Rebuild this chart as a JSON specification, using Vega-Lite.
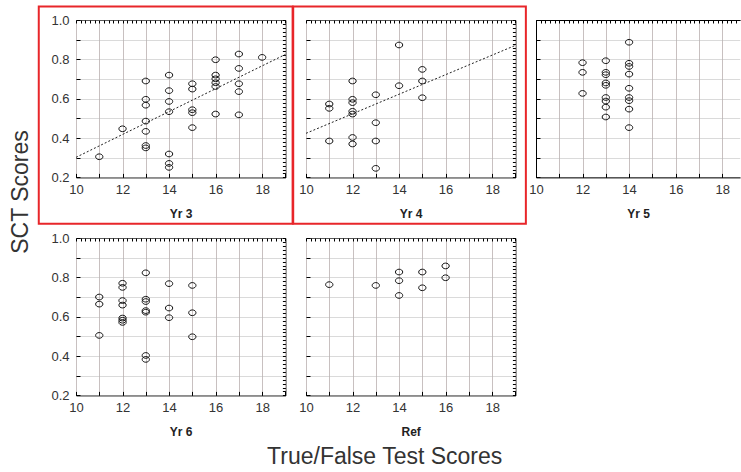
{
  "$schema": "https://vega.github.io/schema/vega-lite/v6.json",
  "autosize": {"type": "pad"},
  "padding": {"left": 10, "top": 5, "right": 0, "bottom": 0},
  "background": "white",
  "config": {
    "font": "Liberation Sans",
    "view": {"stroke": "#000", "strokeWidth": 1},
    "axis": {"labelFont": "Liberation Sans", "labelFontSize": 13, "labelColor": "#333", "titleFont": "Liberation Sans", "titleColor": "#222", "labelOverlap": false, "labelFlush": false, "labelBound": false, "tickColor": "#000"},
    "title": {"font": "Liberation Sans", "fontWeight": "normal", "fontSize": 23, "color": "#333"}
  },
  "datasets": {
    "pts": [
      {"p": "Yr 3", "x": 11, "y": 0.305}, {"p": "Yr 3", "x": 12, "y": 0.447},
      {"p": "Yr 3", "x": 13, "y": 0.69}, {"p": "Yr 3", "x": 13, "y": 0.597}, {"p": "Yr 3", "x": 13, "y": 0.567}, {"p": "Yr 3", "x": 13, "y": 0.486}, {"p": "Yr 3", "x": 13, "y": 0.434}, {"p": "Yr 3", "x": 13, "y": 0.362}, {"p": "Yr 3", "x": 13, "y": 0.35},
      {"p": "Yr 3", "x": 14, "y": 0.72}, {"p": "Yr 3", "x": 14, "y": 0.641}, {"p": "Yr 3", "x": 14, "y": 0.586}, {"p": "Yr 3", "x": 14, "y": 0.534}, {"p": "Yr 3", "x": 14, "y": 0.319}, {"p": "Yr 3", "x": 14, "y": 0.271}, {"p": "Yr 3", "x": 14, "y": 0.251},
      {"p": "Yr 3", "x": 15, "y": 0.676}, {"p": "Yr 3", "x": 15, "y": 0.649}, {"p": "Yr 3", "x": 15, "y": 0.544}, {"p": "Yr 3", "x": 15, "y": 0.529}, {"p": "Yr 3", "x": 15, "y": 0.453},
      {"p": "Yr 3", "x": 16, "y": 0.798}, {"p": "Yr 3", "x": 16, "y": 0.72}, {"p": "Yr 3", "x": 16, "y": 0.701}, {"p": "Yr 3", "x": 16, "y": 0.681}, {"p": "Yr 3", "x": 16, "y": 0.662}, {"p": "Yr 3", "x": 16, "y": 0.522},
      {"p": "Yr 3", "x": 17, "y": 0.827}, {"p": "Yr 3", "x": 17, "y": 0.754}, {"p": "Yr 3", "x": 17, "y": 0.676}, {"p": "Yr 3", "x": 17, "y": 0.636}, {"p": "Yr 3", "x": 17, "y": 0.518},
      {"p": "Yr 3", "x": 18, "y": 0.81},
      {"p": "Yr 4", "x": 11, "y": 0.573}, {"p": "Yr 4", "x": 11, "y": 0.551}, {"p": "Yr 4", "x": 11, "y": 0.385},
      {"p": "Yr 4", "x": 12, "y": 0.69}, {"p": "Yr 4", "x": 12, "y": 0.597}, {"p": "Yr 4", "x": 12, "y": 0.58}, {"p": "Yr 4", "x": 12, "y": 0.536}, {"p": "Yr 4", "x": 12, "y": 0.522}, {"p": "Yr 4", "x": 12, "y": 0.403}, {"p": "Yr 4", "x": 12, "y": 0.37},
      {"p": "Yr 4", "x": 13, "y": 0.62}, {"p": "Yr 4", "x": 13, "y": 0.478}, {"p": "Yr 4", "x": 13, "y": 0.385}, {"p": "Yr 4", "x": 13, "y": 0.246},
      {"p": "Yr 4", "x": 14, "y": 0.873}, {"p": "Yr 4", "x": 14, "y": 0.666},
      {"p": "Yr 4", "x": 15, "y": 0.749}, {"p": "Yr 4", "x": 15, "y": 0.69}, {"p": "Yr 4", "x": 15, "y": 0.605},
      {"p": "Yr 5", "x": 12, "y": 0.783}, {"p": "Yr 5", "x": 12, "y": 0.734}, {"p": "Yr 5", "x": 12, "y": 0.627},
      {"p": "Yr 5", "x": 13, "y": 0.793}, {"p": "Yr 5", "x": 13, "y": 0.734}, {"p": "Yr 5", "x": 13, "y": 0.722}, {"p": "Yr 5", "x": 13, "y": 0.68}, {"p": "Yr 5", "x": 13, "y": 0.668}, {"p": "Yr 5", "x": 13, "y": 0.606}, {"p": "Yr 5", "x": 13, "y": 0.588}, {"p": "Yr 5", "x": 13, "y": 0.557}, {"p": "Yr 5", "x": 13, "y": 0.507},
      {"p": "Yr 5", "x": 14, "y": 0.887}, {"p": "Yr 5", "x": 14, "y": 0.78}, {"p": "Yr 5", "x": 14, "y": 0.764}, {"p": "Yr 5", "x": 14, "y": 0.725}, {"p": "Yr 5", "x": 14, "y": 0.653}, {"p": "Yr 5", "x": 14, "y": 0.606}, {"p": "Yr 5", "x": 14, "y": 0.59}, {"p": "Yr 5", "x": 14, "y": 0.547}, {"p": "Yr 5", "x": 14, "y": 0.453},
      {"p": "Yr 6", "x": 11, "y": 0.70}, {"p": "Yr 6", "x": 11, "y": 0.664}, {"p": "Yr 6", "x": 11, "y": 0.505},
      {"p": "Yr 6", "x": 12, "y": 0.77}, {"p": "Yr 6", "x": 12, "y": 0.749}, {"p": "Yr 6", "x": 12, "y": 0.682}, {"p": "Yr 6", "x": 12, "y": 0.659}, {"p": "Yr 6", "x": 12, "y": 0.593}, {"p": "Yr 6", "x": 12, "y": 0.582}, {"p": "Yr 6", "x": 12, "y": 0.571},
      {"p": "Yr 6", "x": 13, "y": 0.823}, {"p": "Yr 6", "x": 13, "y": 0.689}, {"p": "Yr 6", "x": 13, "y": 0.677}, {"p": "Yr 6", "x": 13, "y": 0.631}, {"p": "Yr 6", "x": 13, "y": 0.623}, {"p": "Yr 6", "x": 13, "y": 0.403}, {"p": "Yr 6", "x": 13, "y": 0.383},
      {"p": "Yr 6", "x": 14, "y": 0.768}, {"p": "Yr 6", "x": 14, "y": 0.644}, {"p": "Yr 6", "x": 14, "y": 0.595},
      {"p": "Yr 6", "x": 15, "y": 0.759}, {"p": "Yr 6", "x": 15, "y": 0.62}, {"p": "Yr 6", "x": 15, "y": 0.498},
      {"p": "Ref", "x": 11, "y": 0.763}, {"p": "Ref", "x": 13, "y": 0.759},
      {"p": "Ref", "x": 14, "y": 0.827}, {"p": "Ref", "x": 14, "y": 0.783}, {"p": "Ref", "x": 14, "y": 0.708},
      {"p": "Ref", "x": 15, "y": 0.827}, {"p": "Ref", "x": 15, "y": 0.747},
      {"p": "Ref", "x": 16, "y": 0.858}, {"p": "Ref", "x": 16, "y": 0.798}
    ],
    "trend": [
      {"p": "Yr 3", "x": 10, "y": 0.302}, {"p": "Yr 3", "x": 19, "y": 0.825},
      {"p": "Yr 4", "x": 10, "y": 0.424}, {"p": "Yr 4", "x": 19, "y": 0.871}
    ]
  },
  "title": {"text": "SCT Scores", "orient": "left", "anchor": "middle", "offset": 4, "dx": 45},
  "hconcat": [
    {
      "title": {"text": "True/False Test Scores", "orient": "bottom", "anchor": "middle", "offset": 8, "dx": -4},
      "spacing": 5,
      "vconcat": [
        {
          "spacing": 20,
          "bounds": "flush",
          "hconcat": [
            {
              "width": 209.4, "height": 157.4,
              "resolve": {"axis": {"x": "independent", "y": "independent"}},
              "layer": [
                {
                  "data": {"name": "pts"},
                  "transform": [{"filter": "datum.p == 'Yr 3'"}],
                  "mark": {"type": "point", "shape": "M-1,0A1,0.78,0,1,1,1,0A1,0.78,0,1,1,-1,0Z", "size": 53, "filled": false, "stroke": "#111", "strokeWidth": 1, "opacity": 1},
                  "encoding": {
                    "x": {"field": "x", "type": "quantitative", "scale": {"domain": [10, 19], "nice": false, "zero": false},
                      "axis": {"orient": "bottom", "values": [10, 11, 12, 13, 14, 15, 16, 17, 18, 19], "labelExpr": "datum.value % 2 == 0 && datum.value < 19 ? datum.label : ''", "grid": true, "gridColor": "#c8c0c0", "ticks": true, "tickSize": -4, "domain": false, "labelPadding": 10, "title": "Yr 3", "titleFontWeight": "bold", "titleFontSize": 12, "titlePadding": 12}},
                    "y": {"field": "y", "type": "quantitative", "scale": {"domain": [0.2, 1.0], "nice": false, "zero": false},
                      "axis": {"orient": "left", "values": [0.2, 0.3, 0.4, 0.5, 0.6, 0.7, 0.8, 0.9, 1.0], "format": ".1f", "labelExpr": "round(datum.value * 10) % 2 == 0 ? datum.label : ''", "grid": true, "gridColor": "#b5b5b5", "gridDash": [1, 1], "ticks": true, "tickSize": -4, "domain": false, "labelPadding": 11, "title": null}}
                  }
                },
                {
                  "data": {"name": "trend"},
                  "transform": [{"filter": "datum.p == 'Yr 3'"}],
                  "mark": {"type": "line", "strokeDash": [2, 2], "color": "#222", "strokeWidth": 1},
                  "encoding": {
                    "x": {"field": "x", "type": "quantitative", "scale": {"domain": [10, 19], "nice": false, "zero": false}, "axis": null},
                    "y": {"field": "y", "type": "quantitative", "scale": {"domain": [0.2, 1.0], "nice": false, "zero": false}, "axis": null}
                  }
                },
                {
                  "data": {"name": "pts"},
                  "transform": [{"filter": "datum.p == 'Yr 3'"}],
                  "mark": {"type": "point", "opacity": 0},
                  "encoding": {
                    "x": {"field": "x", "type": "quantitative", "scale": {"domain": [10, 19], "nice": false, "zero": false},
                      "axis": {"orient": "top", "values": [10,10.2,10.4,10.6,10.8,11,11.2,11.4,11.6,11.8,12,12.2,12.4,12.6,12.8,13,13.2,13.4,13.6,13.8,14,14.2,14.4,14.6,14.8,15,15.2,15.4,15.6,15.8,16,16.2,16.4,16.6,16.8,17,17.2,17.4,17.6,17.8,18,18.2,18.4,18.6,18.8,19], "labels": false, "grid": false, "domain": false, "tickSize": -3, "title": null}},
                    "y": {"field": "y", "type": "quantitative", "scale": {"domain": [0.2, 1.0], "nice": false, "zero": false},
                      "axis": {"orient": "right", "values": [0.2,0.22,0.24,0.26,0.28,0.3,0.32,0.34,0.36,0.38,0.4,0.42,0.44,0.46,0.48,0.5,0.52,0.54,0.56,0.58,0.6,0.62,0.64,0.66,0.68,0.7,0.72,0.74,0.76,0.78,0.8,0.82,0.84,0.86,0.88,0.9,0.92,0.94,0.96,0.98,1.0], "labels": false, "grid": false, "domain": false, "tickSize": -3, "title": null}}
                  }
                },
                {
                  "data": {"values": [{}]},
                  "mark": {"type": "rect", "fill": null, "stroke": "#e8262a", "strokeWidth": 2},
                  "encoding": {
                    "x": {"datum": 8.4, "type": "quantitative", "scale": {"domain": [10, 19], "nice": false, "zero": false}, "axis": null},
                    "x2": {"datum": 19.31},
                    "y": {"datum": 1.068, "type": "quantitative", "scale": {"domain": [0.2, 1.0], "nice": false, "zero": false}, "axis": null},
                    "y2": {"datum": -0.035}
                  }
                }
              ]
            },
            {
              "width": 209.4, "height": 157.4,
              "resolve": {"axis": {"x": "independent", "y": "independent"}},
              "layer": [
                {
                  "data": {"name": "pts"},
                  "transform": [{"filter": "datum.p == 'Yr 4'"}],
                  "mark": {"type": "point", "shape": "M-1,0A1,0.78,0,1,1,1,0A1,0.78,0,1,1,-1,0Z", "size": 53, "filled": false, "stroke": "#111", "strokeWidth": 1, "opacity": 1},
                  "encoding": {
                    "x": {"field": "x", "type": "quantitative", "scale": {"domain": [10, 19], "nice": false, "zero": false},
                      "axis": {"orient": "bottom", "values": [10, 11, 12, 13, 14, 15, 16, 17, 18, 19], "labelExpr": "datum.value % 2 == 0 && datum.value < 19 ? datum.label : ''", "grid": true, "gridColor": "#c8c0c0", "ticks": true, "tickSize": -4, "domain": false, "labelPadding": 10, "title": "Yr 4", "titleFontWeight": "bold", "titleFontSize": 12, "titlePadding": 12}},
                    "y": {"field": "y", "type": "quantitative", "scale": {"domain": [0.2, 1.0], "nice": false, "zero": false},
                      "axis": {"orient": "left", "values": [0.2, 0.3, 0.4, 0.5, 0.6, 0.7, 0.8, 0.9, 1.0], "labels": false, "grid": true, "gridColor": "#b5b5b5", "gridDash": [1, 1], "ticks": true, "tickSize": -4, "domain": false, "title": null}}
                  }
                },
                {
                  "data": {"name": "trend"},
                  "transform": [{"filter": "datum.p == 'Yr 4'"}],
                  "mark": {"type": "line", "strokeDash": [2, 2], "color": "#222", "strokeWidth": 1},
                  "encoding": {
                    "x": {"field": "x", "type": "quantitative", "scale": {"domain": [10, 19], "nice": false, "zero": false}, "axis": null},
                    "y": {"field": "y", "type": "quantitative", "scale": {"domain": [0.2, 1.0], "nice": false, "zero": false}, "axis": null}
                  }
                },
                {
                  "data": {"name": "pts"},
                  "transform": [{"filter": "datum.p == 'Yr 4'"}],
                  "mark": {"type": "point", "opacity": 0},
                  "encoding": {
                    "x": {"field": "x", "type": "quantitative", "scale": {"domain": [10, 19], "nice": false, "zero": false},
                      "axis": {"orient": "top", "values": [10,10.2,10.4,10.6,10.8,11,11.2,11.4,11.6,11.8,12,12.2,12.4,12.6,12.8,13,13.2,13.4,13.6,13.8,14,14.2,14.4,14.6,14.8,15,15.2,15.4,15.6,15.8,16,16.2,16.4,16.6,16.8,17,17.2,17.4,17.6,17.8,18,18.2,18.4,18.6,18.8,19], "labels": false, "grid": false, "domain": false, "tickSize": -3, "title": null}},
                    "y": {"field": "y", "type": "quantitative", "scale": {"domain": [0.2, 1.0], "nice": false, "zero": false},
                      "axis": {"orient": "right", "values": [0.2,0.22,0.24,0.26,0.28,0.3,0.32,0.34,0.36,0.38,0.4,0.42,0.44,0.46,0.48,0.5,0.52,0.54,0.56,0.58,0.6,0.62,0.64,0.66,0.68,0.7,0.72,0.74,0.76,0.78,0.8,0.82,0.84,0.86,0.88,0.9,0.92,0.94,0.96,0.98,1.0], "labels": false, "grid": false, "domain": false, "tickSize": -3, "title": null}}
                  }
                },
                {
                  "data": {"values": [{}]},
                  "mark": {"type": "rect", "fill": null, "stroke": "#e8262a", "strokeWidth": 2},
                  "encoding": {
                    "x": {"datum": 9.45, "type": "quantitative", "scale": {"domain": [10, 19], "nice": false, "zero": false}, "axis": null},
                    "x2": {"datum": 19.45},
                    "y": {"datum": 1.068, "type": "quantitative", "scale": {"domain": [0.2, 1.0], "nice": false, "zero": false}, "axis": null},
                    "y2": {"datum": -0.035}
                  }
                }
              ]
            },
            {
              "width": 204.1, "height": 157.4,
              "view": {"stroke": null},
              "resolve": {"axis": {"x": "independent", "y": "independent"}},
              "layer": [
                {
                  "data": {"name": "pts"},
                  "transform": [{"filter": "datum.p == 'Yr 5'"}],
                  "mark": {"type": "point", "shape": "M-1,0A1,0.78,0,1,1,1,0A1,0.78,0,1,1,-1,0Z", "size": 53, "filled": false, "stroke": "#111", "strokeWidth": 1, "opacity": 1},
                  "encoding": {
                    "x": {"field": "x", "type": "quantitative", "scale": {"domain": [10, 18.77], "nice": false, "zero": false},
                      "axis": {"orient": "bottom", "values": [10, 11, 12, 13, 14, 15, 16, 17, 18], "labelExpr": "datum.value % 2 == 0 ? datum.label : ''", "grid": true, "gridColor": "#c8c0c0", "ticks": true, "tickSize": -4, "domain": true, "domainColor": "#000", "labelPadding": 10, "title": "Yr 5", "titleFontWeight": "bold", "titleFontSize": 12, "titlePadding": 12}},
                    "y": {"field": "y", "type": "quantitative", "scale": {"domain": [0.2, 1.0], "nice": false, "zero": false},
                      "axis": {"orient": "left", "values": [0.2, 0.3, 0.4, 0.5, 0.6, 0.7, 0.8, 0.9, 1.0], "labels": false, "grid": true, "gridColor": "#b5b5b5", "gridDash": [1, 1], "ticks": true, "tickSize": -4, "domain": true, "domainColor": "#000", "title": null}}
                  }
                },
                {
                  "data": {"name": "pts"},
                  "transform": [{"filter": "datum.p == 'Yr 5'"}],
                  "mark": {"type": "point", "opacity": 0},
                  "encoding": {
                    "x": {"field": "x", "type": "quantitative", "scale": {"domain": [10, 18.77], "nice": false, "zero": false},
                      "axis": {"orient": "top", "values": [10,10.2,10.4,10.6,10.8,11,11.2,11.4,11.6,11.8,12,12.2,12.4,12.6,12.8,13,13.2,13.4,13.6,13.8,14,14.2,14.4,14.6,14.8,15,15.2,15.4,15.6,15.8,16,16.2,16.4,16.6,16.8,17,17.2,17.4,17.6,17.8,18,18.2,18.4,18.6], "labels": false, "grid": false, "domain": true, "domainColor": "#000", "tickSize": -3, "title": null}},
                    "y": {"field": "y", "type": "quantitative", "scale": {"domain": [0.2, 1.0], "nice": false, "zero": false}, "axis": null}
                  }
                }
              ]
            }
          ]
        },
        {
          "spacing": 20,
          "bounds": "flush",
          "hconcat": [
            {
              "width": 209.4, "height": 157.4,
              "resolve": {"axis": {"x": "independent", "y": "independent"}},
              "layer": [
                {
                  "data": {"name": "pts"},
                  "transform": [{"filter": "datum.p == 'Yr 6'"}],
                  "mark": {"type": "point", "shape": "M-1,0A1,0.78,0,1,1,1,0A1,0.78,0,1,1,-1,0Z", "size": 53, "filled": false, "stroke": "#111", "strokeWidth": 1, "opacity": 1},
                  "encoding": {
                    "x": {"field": "x", "type": "quantitative", "scale": {"domain": [10, 19], "nice": false, "zero": false},
                      "axis": {"orient": "bottom", "values": [10, 11, 12, 13, 14, 15, 16, 17, 18, 19], "labelExpr": "datum.value % 2 == 0 && datum.value < 19 ? datum.label : ''", "grid": true, "gridColor": "#c8c0c0", "ticks": true, "tickSize": -4, "domain": false, "labelPadding": 10, "title": "Yr 6", "titleFontWeight": "bold", "titleFontSize": 12, "titlePadding": 12}},
                    "y": {"field": "y", "type": "quantitative", "scale": {"domain": [0.2, 1.0], "nice": false, "zero": false},
                      "axis": {"orient": "left", "values": [0.2, 0.3, 0.4, 0.5, 0.6, 0.7, 0.8, 0.9, 1.0], "format": ".1f", "labelExpr": "round(datum.value * 10) % 2 == 0 ? datum.label : ''", "grid": true, "gridColor": "#b5b5b5", "gridDash": [1, 1], "ticks": true, "tickSize": -4, "domain": false, "labelPadding": 11, "title": null}}
                  }
                },
                {
                  "data": {"name": "pts"},
                  "transform": [{"filter": "datum.p == 'Yr 6'"}],
                  "mark": {"type": "point", "opacity": 0},
                  "encoding": {
                    "x": {"field": "x", "type": "quantitative", "scale": {"domain": [10, 19], "nice": false, "zero": false},
                      "axis": {"orient": "top", "values": [10,10.2,10.4,10.6,10.8,11,11.2,11.4,11.6,11.8,12,12.2,12.4,12.6,12.8,13,13.2,13.4,13.6,13.8,14,14.2,14.4,14.6,14.8,15,15.2,15.4,15.6,15.8,16,16.2,16.4,16.6,16.8,17,17.2,17.4,17.6,17.8,18,18.2,18.4,18.6,18.8,19], "labels": false, "grid": false, "domain": false, "tickSize": -3, "title": null}},
                    "y": {"field": "y", "type": "quantitative", "scale": {"domain": [0.2, 1.0], "nice": false, "zero": false},
                      "axis": {"orient": "right", "values": [0.2,0.22,0.24,0.26,0.28,0.3,0.32,0.34,0.36,0.38,0.4,0.42,0.44,0.46,0.48,0.5,0.52,0.54,0.56,0.58,0.6,0.62,0.64,0.66,0.68,0.7,0.72,0.74,0.76,0.78,0.8,0.82,0.84,0.86,0.88,0.9,0.92,0.94,0.96,0.98,1.0], "labels": false, "grid": false, "domain": false, "tickSize": -3, "title": null}}
                  }
                }
              ]
            },
            {
              "width": 209.4, "height": 157.4,
              "resolve": {"axis": {"x": "independent", "y": "independent"}},
              "layer": [
                {
                  "data": {"name": "pts"},
                  "transform": [{"filter": "datum.p == 'Ref'"}],
                  "mark": {"type": "point", "shape": "M-1,0A1,0.78,0,1,1,1,0A1,0.78,0,1,1,-1,0Z", "size": 53, "filled": false, "stroke": "#111", "strokeWidth": 1, "opacity": 1},
                  "encoding": {
                    "x": {"field": "x", "type": "quantitative", "scale": {"domain": [10, 19], "nice": false, "zero": false},
                      "axis": {"orient": "bottom", "values": [10, 11, 12, 13, 14, 15, 16, 17, 18, 19], "labelExpr": "datum.value % 2 == 0 && datum.value < 19 ? datum.label : ''", "grid": true, "gridColor": "#c8c0c0", "ticks": true, "tickSize": -4, "domain": false, "labelPadding": 10, "title": "Ref", "titleFontWeight": "bold", "titleFontSize": 12, "titlePadding": 12}},
                    "y": {"field": "y", "type": "quantitative", "scale": {"domain": [0.2, 1.0], "nice": false, "zero": false},
                      "axis": {"orient": "left", "values": [0.2, 0.3, 0.4, 0.5, 0.6, 0.7, 0.8, 0.9, 1.0], "labels": false, "grid": true, "gridColor": "#b5b5b5", "gridDash": [1, 1], "ticks": true, "tickSize": -4, "domain": false, "title": null}}
                  }
                },
                {
                  "data": {"name": "pts"},
                  "transform": [{"filter": "datum.p == 'Ref'"}],
                  "mark": {"type": "point", "opacity": 0},
                  "encoding": {
                    "x": {"field": "x", "type": "quantitative", "scale": {"domain": [10, 19], "nice": false, "zero": false},
                      "axis": {"orient": "top", "values": [10,10.2,10.4,10.6,10.8,11,11.2,11.4,11.6,11.8,12,12.2,12.4,12.6,12.8,13,13.2,13.4,13.6,13.8,14,14.2,14.4,14.6,14.8,15,15.2,15.4,15.6,15.8,16,16.2,16.4,16.6,16.8,17,17.2,17.4,17.6,17.8,18,18.2,18.4,18.6,18.8,19], "labels": false, "grid": false, "domain": false, "tickSize": -3, "title": null}},
                    "y": {"field": "y", "type": "quantitative", "scale": {"domain": [0.2, 1.0], "nice": false, "zero": false},
                      "axis": {"orient": "right", "values": [0.2,0.22,0.24,0.26,0.28,0.3,0.32,0.34,0.36,0.38,0.4,0.42,0.44,0.46,0.48,0.5,0.52,0.54,0.56,0.58,0.6,0.62,0.64,0.66,0.68,0.7,0.72,0.74,0.76,0.78,0.8,0.82,0.84,0.86,0.88,0.9,0.92,0.94,0.96,0.98,1.0], "labels": false, "grid": false, "domain": false, "tickSize": -3, "title": null}}
                  }
                }
              ]
            }
          ]
        }
      ]
    }
  ]
}
